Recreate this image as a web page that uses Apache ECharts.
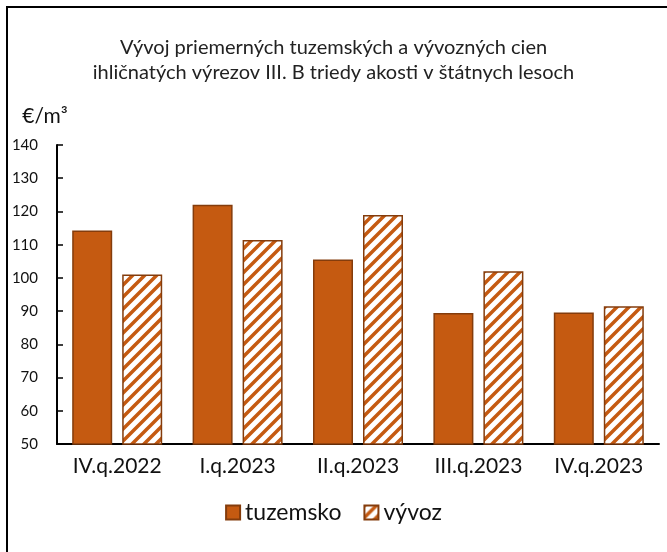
<!DOCTYPE html>
<html>
<head>
<meta charset="utf-8">
<script src="https://cdn.jsdelivr.net/npm/echarts@6/dist/echarts.min.js"></script>
<style>
    html, body { margin: 0; padding: 0; background: #fff; }
    #chart { width: 667px; height: 552px; }
</style>
</head>
<body>
<div id="chart"></div>
<script>
// údaje z grafu
var categories = ['IV.q.2022', 'I.q.2023', 'II.q.2023', 'III.q.2023', 'IV.q.2023'];
var tuzemsko = [114.3, 122.0, 105.5, 89.4, 89.6];
var vyvoz = [101.0, 111.4, 118.9, 102.0, 91.5];
var yMin = 50;
var yMax = 140;
var yStep = 10;

var FONT = 'Lato';
var ORANGE = '#C55A11';
var BORDER = '#843C0C';

// šrafovanie pre vývoz
function makeHatch() {
    var c = document.createElement('canvas');
    c.width = 12;
    c.height = 12;
    var ctx = c.getContext('2d');
    ctx.fillStyle = '#fff';
    ctx.fillRect(0, 0, 12, 12);
    ctx.strokeStyle = ORANGE;
    ctx.lineWidth = 3.5;
    ctx.beginPath();
    ctx.moveTo(-3, 15); ctx.lineTo(15, -3);
    ctx.moveTo(-3, 3); ctx.lineTo(3, -3);
    ctx.moveTo(9, 15); ctx.lineTo(15, 9);
    ctx.stroke();
    return c;
}

var chart = echarts.init(document.getElementById('chart'));
var option = {
    backgroundColor: '#fff',
    animation: false,
    textStyle: { fontFamily: FONT },
    title: {
        text: 'Vývoj priemerných tuzemských a vývozných cien\nihličnatých výrezov III. B triedy akosti v štátnych lesoch',
        left: 'center',
        top: 30,
        textStyle: { fontFamily: FONT, fontSize: 20, fontWeight: 'normal', color: '#222', lineHeight: 25 }
    },
    graphic: [{
        type: 'rect',
        shape: { x: 7, y: 7, width: 680, height: 560 },
        style: { fill: 'none', stroke: '#000', lineWidth: 2 },
        silent: true
    }],
    legend: {
        bottom: 23,
        left: 'center',
        icon: 'rect',
        itemWidth: 14,
        itemHeight: 14,
        itemGap: 22,
        textStyle: { fontFamily: FONT, fontSize: 23, color: '#111' },
        data: ['tuzemsko', 'vývoz']
    },
    grid: { left: 57, right: 8, top: 145, bottom: 108 },
    xAxis: {
        type: 'category',
        data: categories,
        axisLine: { lineStyle: { color: '#000', width: 2 } },
        axisTick: { inside: true, length: 6, lineStyle: { color: '#000', width: 1.5 } },
        axisLabel: { fontFamily: FONT, fontSize: 21, color: '#111', margin: 12 }
    },
    yAxis: {
        type: 'value',
        min: yMin,
        max: yMax,
        interval: yStep,
        name: '€/m³',
        nameLocation: 'end',
        nameGap: 29,
        nameTextStyle: { fontFamily: FONT, fontSize: 21, color: '#111', align: 'center', verticalAlign: 'middle', padding: [0, 24, 0, 0] },
        splitLine: { show: false },
        axisLine: { show: true, lineStyle: { color: '#000', width: 2 } },
        axisTick: { show: true, inside: true, length: 6, lineStyle: { color: '#000', width: 1.5 } },
        axisLabel: { fontFamily: FONT, fontSize: 15, color: '#111', margin: 19 }
    },
    series: [
        {
            name: 'tuzemsko',
            type: 'bar',
            data: tuzemsko,
            barWidth: 40,
            barGap: '25%',
            itemStyle: { color: ORANGE, borderColor: BORDER, borderWidth: 1.5 }
        },
        {
            name: 'vývoz',
            type: 'bar',
            data: vyvoz,
            barWidth: 40,
            itemStyle: {
                color: { image: makeHatch(), repeat: 'repeat' },
                borderColor: BORDER,
                borderWidth: 1.5
            }
        }
    ]
};
chart.setOption(option);
</script>
</body>
</html>
